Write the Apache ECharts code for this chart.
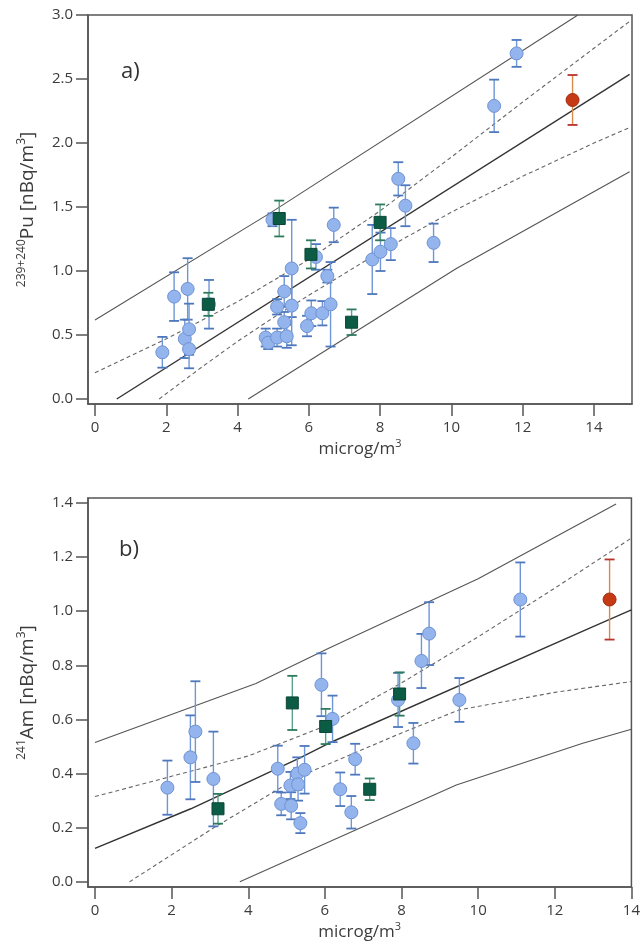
<!DOCTYPE html>
<html>
<head>
<meta charset="utf-8">
<script src="https://cdn.jsdelivr.net/npm/echarts@6/dist/echarts.min.js"></script>
<style>
  html, body { margin: 0; padding: 0; background: #ffffff; }
  #chart { width: 643px; height: 947px; }
</style>
</head>
<body>
<div id="chart"></div>
<script>
// ---- Panel a: 239+240Pu activity vs. mass concentration ----
// points are [x, y, error]
const puBlue = [
  [1.89, 0.365, 0.12], [2.22, 0.80, 0.19], [2.52, 0.47, 0.15], [2.60, 0.86, 0.24],
  [2.64, 0.545, 0.20], [2.64, 0.39, 0.15], [3.20, 0.74, 0.19], [4.79, 0.48, 0.07],
  [4.86, 0.44, 0.05], [4.98, 1.40, 0.05], [5.11, 0.72, 0.06], [5.11, 0.48, 0.07],
  [5.31, 0.84, 0.12], [5.31, 0.60, 0.08], [5.38, 0.49, 0.09], [5.52, 1.02, 0.38],
  [5.52, 0.73, 0.31], [5.95, 0.57, 0.08], [6.07, 0.67, 0.10], [6.20, 1.11, 0.10],
  [6.38, 0.67, 0.095], [6.52, 0.96, 0.05], [6.61, 0.74, 0.33], [6.70, 1.36, 0.135],
  [7.78, 1.09, 0.27], [8.01, 1.15, 0.15], [8.30, 1.21, 0.125], [8.51, 1.72, 0.13],
  [8.71, 1.51, 0.16], [9.50, 1.22, 0.15], [11.20, 2.29, 0.205], [11.83, 2.70, 0.105]
];
const puGreen = [
  [3.18, 0.74, 0.09], [5.17, 1.41, 0.14], [6.06, 1.13, 0.11], [7.20, 0.60, 0.10], [8.00, 1.38, 0.14]
];
const puRed = [[13.40, 2.336, 0.195]];

const puFit = [[0.61, 0], [15, 2.536]];
const puConfHi = [[0, 0.205], [2, 0.47], [4, 0.76], [6, 1.09], [8, 1.47], [10, 1.89], [12, 2.32], [14, 2.74], [15, 2.95]];
const puConfLo = [[1.8, 0], [3, 0.25], [4, 0.45], [5, 0.635], [6, 0.81], [8, 1.15], [10, 1.46], [12, 1.74], [14, 2.0], [15, 2.12]];
const puPredHi = [[0, 0.617], [4.9, 1.45], [13.55, 3.0]];
const puPredLo = [[4.3, 0], [10.14, 1.02], [15, 1.776]];

// ---- Panel b: 241Am activity vs. mass concentration ----
const amBlue = [
  [1.89, 0.348, 0.10], [2.49, 0.46, 0.155], [2.62, 0.555, 0.186], [3.09, 0.38, 0.175],
  [4.77, 0.418, 0.085], [4.86, 0.288, 0.042], [5.10, 0.356, 0.05], [5.12, 0.281, 0.05],
  [5.28, 0.40, 0.06], [5.30, 0.36, 0.06], [5.36, 0.217, 0.037], [5.47, 0.414, 0.088],
  [5.91, 0.728, 0.116], [6.20, 0.602, 0.086], [6.40, 0.342, 0.062], [6.69, 0.257, 0.06],
  [6.79, 0.453, 0.057], [7.91, 0.672, 0.10], [8.31, 0.512, 0.075], [8.52, 0.816, 0.10],
  [8.72, 0.917, 0.116], [9.51, 0.672, 0.081], [11.10, 1.043, 0.137]
];
const amGreen = [
  [3.21, 0.27, 0.055], [5.15, 0.661, 0.10], [6.02, 0.574, 0.065], [7.17, 0.342, 0.04], [7.95, 0.694, 0.08]
];
const amRed = [[13.43, 1.043, 0.148]];

const amFit = [[0, 0.124], [2.5, 0.27], [5.35, 0.458], [6.1, 0.512], [13, 0.943], [14, 1.005]];
const amConfHi = [[0, 0.315], [2, 0.39], [4, 0.465], [6, 0.575], [8, 0.735], [10, 0.905], [12, 1.085], [14, 1.27]];
const amConfLo = [[0.9, 0], [3.1, 0.2], [5.35, 0.39], [8, 0.55], [9.5, 0.635], [12, 0.70], [14, 0.74]];
const amPredHi = [[0, 0.515], [4.2, 0.733], [6.1, 0.863], [10, 1.12], [13.6, 1.396]];
const amPredLo = [[3.78, 0], [6.13, 0.149], [9.43, 0.358], [12.73, 0.512], [14, 0.564]];

// tick labels
const xTicks = [0, 2, 4, 6, 8, 10, 12, 14];
const yTicksPu = [0, 0.5, 1.0, 1.5, 2.0, 2.5, 3.0];
const yTicksAm = [0, 0.2, 0.4, 0.6, 0.8, 1.0, 1.2, 1.4];

const FONT = 'Open Sans';
const axisColor = '#555555';
const textColor = '#3c3c3c';

function errorBars(capColor, lineColor) {
  return function (params, api) {
    const x = api.value(0), y = api.value(1), e = api.value(2);
    const top = api.coord([x, y + e]);
    const bot = api.coord([x, y - e]);
    const hw = 5;
    return {
      type: 'group',
      children: [
        { type: 'line', shape: { x1: top[0], y1: top[1], x2: bot[0], y2: bot[1] },
          style: { stroke: lineColor, lineWidth: 1.4 } },
        { type: 'line', shape: { x1: top[0] - hw, y1: top[1], x2: top[0] + hw, y2: top[1] },
          style: { stroke: capColor, lineWidth: 1.8 } },
        { type: 'line', shape: { x1: bot[0] - hw, y1: bot[1], x2: bot[0] + hw, y2: bot[1] },
          style: { stroke: capColor, lineWidth: 1.8 } }
      ]
    };
  };
}

function xAxisCfg(gridIndex, min, max) {
  return {
    gridIndex, type: 'value', min, max,
    splitLine: { show: false },
    axisLine: { show: true, onZero: false, lineStyle: { color: axisColor, width: 1.5 } },
    axisTick: { show: true, customValues: xTicks, length: 12, lineStyle: { color: axisColor, width: 1.5 } },
    axisLabel: { customValues: xTicks, margin: 16, color: textColor, fontFamily: FONT, fontSize: 15 },
    name: '{b|microg/m}{s|3}',
    nameLocation: 'middle', nameGap: 34,
    nameTextStyle: {
      color: textColor, fontFamily: FONT,
      rich: {
        b: { fontSize: 17, fontFamily: FONT, color: textColor, lineHeight: 22 },
        s: { fontSize: 11, fontFamily: FONT, color: textColor, lineHeight: 22, verticalAlign: 'top' }
      }
    }
  };
}

function yAxisCfg(gridIndex, min, max, ticks, name) {
  return {
    gridIndex, type: 'value', min, max,
    splitLine: { show: false },
    axisLine: { show: true, onZero: false, lineStyle: { color: axisColor, width: 1.5 } },
    axisTick: { show: true, customValues: ticks, length: 12, lineStyle: { color: axisColor, width: 1.5 } },
    axisLabel: { customValues: ticks, margin: 15, color: textColor, fontFamily: FONT, fontSize: 15,
                 formatter: v => v.toFixed(1) },
    name, nameLocation: 'middle', nameGap: 48,
    nameTextStyle: {
      color: textColor, fontFamily: FONT,
      rich: {
        b: { fontSize: 19, fontFamily: FONT, color: textColor, lineHeight: 24 },
        s: { fontSize: 12, fontFamily: FONT, color: textColor, lineHeight: 24, verticalAlign: 'top' }
      }
    }
  };
}

function lineSeries(idx, data, kind) {
  const styles = {
    fit:  { color: '#333333', width: 1.4, type: 'solid' },
    pred: { color: '#555555', width: 1.1, type: 'solid' },
    conf: { color: '#666666', width: 1.1, type: [4, 3] }
  };
  return {
    type: 'line', xAxisIndex: idx, yAxisIndex: idx, data,
    showSymbol: false, symbol: 'none', silent: true, clip: true, z: 1,
    lineStyle: styles[kind]
  };
}

function pointSeries(idx, blue, green, red) {
  return [
    { type: 'custom', xAxisIndex: idx, yAxisIndex: idx, data: blue, encode: { x: 0, y: 1 },
      renderItem: errorBars('#4e78bd', '#6f96d6'), z: 2, silent: true },
    { type: 'custom', xAxisIndex: idx, yAxisIndex: idx, data: green, encode: { x: 0, y: 1 },
      renderItem: errorBars('#2d7a5c', '#58a487'), z: 2, silent: true },
    { type: 'custom', xAxisIndex: idx, yAxisIndex: idx, data: red, encode: { x: 0, y: 1 },
      renderItem: errorBars('#b8322a', '#d88a48'), z: 2, silent: true },
    { type: 'scatter', xAxisIndex: idx, yAxisIndex: idx, data: blue, encode: { x: 0, y: 1 },
      symbol: 'circle', symbolSize: 13, z: 3,
      itemStyle: { color: '#93b4ec', borderColor: '#6f93d4', borderWidth: 1, opacity: 1 } },
    { type: 'scatter', xAxisIndex: idx, yAxisIndex: idx, data: green, encode: { x: 0, y: 1 },
      symbol: 'rect', symbolSize: 12, z: 4,
      itemStyle: { color: '#0c5b45', borderColor: '#0a4636', borderWidth: 1, opacity: 1 } },
    { type: 'scatter', xAxisIndex: idx, yAxisIndex: idx, data: red, encode: { x: 0, y: 1 },
      symbol: 'circle', symbolSize: 13, z: 4,
      itemStyle: { color: '#c53a14', borderColor: '#a32c10', borderWidth: 1, opacity: 1 } }
  ];
}

const chart = echarts.init(document.getElementById('chart'), null, { renderer: 'canvas' });

chart.setOption({
  backgroundColor: '#ffffff',
  animation: false,
  grid: [
    { left: 88, top: 15, width: 544, height: 389, show: true, borderColor: axisColor, borderWidth: 1.5, backgroundColor: 'transparent' },
    { left: 88, top: 498, width: 544, height: 389, show: true, borderColor: axisColor, borderWidth: 1.5, backgroundColor: 'transparent' }
  ],
  xAxis: [
    xAxisCfg(0, -0.196, 15.068),
    xAxisCfg(1, -0.1825, 14.0)
  ],
  yAxis: [
    yAxisCfg(0, -0.039, 3.0, yTicksPu, '{s|239+240}{b|Pu [nBq/m}{s|3}{b|]}'),
    yAxisCfg(1, -0.019, 1.418, yTicksAm, '{s|241}{b|Am [nBq/m}{s|3}{b|]}')
  ],
  graphic: [
    { type: 'text', left: 121, top: 61, style: { text: 'a)', fontFamily: FONT, fontSize: 22, fill: '#333333' } },
    { type: 'text', left: 119, top: 539, style: { text: 'b)', fontFamily: FONT, fontSize: 22, fill: '#333333' } }
  ],
  series: [
    lineSeries(0, puPredHi, 'pred'),
    lineSeries(0, puPredLo, 'pred'),
    lineSeries(0, puConfHi, 'conf'),
    lineSeries(0, puConfLo, 'conf'),
    lineSeries(0, puFit, 'fit'),
    ...pointSeries(0, puBlue, puGreen, puRed),
    lineSeries(1, amPredHi, 'pred'),
    lineSeries(1, amPredLo, 'pred'),
    lineSeries(1, amConfHi, 'conf'),
    lineSeries(1, amConfLo, 'conf'),
    lineSeries(1, amFit, 'fit'),
    ...pointSeries(1, amBlue, amGreen, amRed)
  ]
});
</script>
</body>
</html>
